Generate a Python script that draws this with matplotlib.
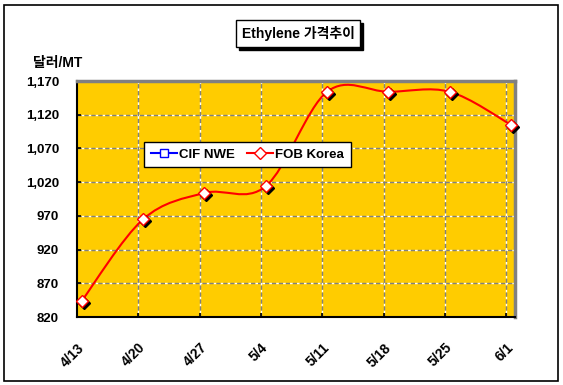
import matplotlib
matplotlib.use('Agg')
import matplotlib.pyplot as plt
import matplotlib.patches as mpatches
import matplotlib.transforms as mtransforms
from matplotlib.path import Path
import numpy as np

plt.rcParams['font.family'] = ['Liberation Sans', 'Noto Sans CJK KR', 'DejaVu Sans']
plt.rcParams['font.weight'] = 'bold'

# data
weeks = ['4/13', '4/20', '4/27', '5/4', '5/11', '5/18', '5/25', '6/1']
fob_korea = [844, 965, 1004, 1014, 1154, 1154, 1154, 1105]
cif_nwe = []
y_ticks = [820, 870, 920, 970, 1020, 1070, 1120, 1170]

fig = plt.figure(figsize=(5.63, 3.85), dpi=100)
W, H = 563.0, 385.0

# outer frame
fig.patches.append(mpatches.Rectangle((4 / W, 1 - 381 / H), 554 / W, 376 / H,
                                      transform=fig.transFigure, fill=False,
                                      ec='black', lw=1.2))

ax = fig.add_axes([77 / W, 1 - 317 / H, (515 - 77) / W, (317 - 81) / H])
ax.set_facecolor('#FFCC00')

tick_x = np.arange(len(weeks)) * 7.0
pt_x = tick_x + 0.55
ax.set_xlim(0, 50)
ax.set_ylim(820, 1170)
ax.set_xticks(tick_x)
ax.set_xticklabels(weeks, rotation=45, ha='right', rotation_mode='anchor',
                   fontsize=10, fontweight='bold')
ax.set_yticks(y_ticks)
ax.set_yticklabels(['{:,}'.format(v) for v in y_ticks], fontsize=9.5, fontweight='bold')
ax.tick_params(axis='both', direction='in', length=3, width=1.2, color='black')
ax.tick_params(axis='y', pad=13)
ax.tick_params(axis='x', pad=17)

# grid: gray dashes with white gaps
for yv in y_ticks[1:-1]:
    ax.axhline(yv, color='#808080', lw=1, ls=(0, (3, 2)), gapcolor='white', zorder=1)
for xv in tick_x[1:]:
    ax.axvline(xv, color='#808080', lw=1, ls=(0, (3, 2)), gapcolor='white', zorder=1)

for s in ['left', 'bottom']:
    ax.spines[s].set_color('black')
    ax.spines[s].set_linewidth(1.5)
for s in ['top', 'right']:
    ax.spines[s].set_color('#808080')
    ax.spines[s].set_linewidth(2.5)

# smoothed line (excel style bezier)
pts = np.column_stack([pt_x, fob_korea])
verts = [tuple(pts[0])]
codes = [Path.MOVETO]
n = len(pts)
for i in range(n - 1):
    p0 = pts[max(i - 1, 0)]
    p1 = pts[i]
    p2 = pts[i + 1]
    p3 = pts[min(i + 2, n - 1)]
    c1 = p1 + (p2 - p0) / 6.0
    c2 = p2 - (p3 - p1) / 6.0
    verts += [tuple(c1), tuple(c2), tuple(p2)]
    codes += [Path.CURVE4] * 3
ax.add_patch(mpatches.PathPatch(Path(verts, codes), fill=False, ec='red', lw=1.5, zorder=3))

# marker shadows
shadow = mtransforms.offset_copy(ax.transData, fig=fig, x=2, y=-2, units='dots')
ax.plot(pt_x, fob_korea, 'D', ms=6, mfc='black', mec='black', transform=shadow,
        zorder=4, clip_on=False)
ax.plot(pt_x, fob_korea, 'D', ms=6, mfc='white', mec='red', mew=1, zorder=5,
        clip_on=False)
ax.plot(cif_nwe, cif_nwe, color='blue')

h1 = plt.Line2D([], [], color='blue', lw=1.5, marker='s', ms=6, mfc='white', mec='blue')
h2 = plt.Line2D([], [], color='red', lw=1.5, marker='D', ms=6, mfc='white', mec='red')
leg = fig.legend([h1, h2], ['CIF NWE', 'FOB Korea'], ncol=2,
                 loc='upper left', bbox_to_anchor=(144 / W, 1 - 142 / H),
                 borderaxespad=0, fancybox=False, framealpha=1, edgecolor='black',
                 prop={'weight': 'bold', 'size': 9.5}, handlelength=2.0,
                 handletextpad=0.15, columnspacing=0.9, borderpad=0.5)
leg.get_frame().set_linewidth(1)

# title box with shadow
fig.patches.append(mpatches.Rectangle((239 / W, 1 - 50 / H), 124 / W, 27 / H,
                                      transform=fig.transFigure, fc='black', ec='black'))
fig.patches.append(mpatches.Rectangle((236 / W, 1 - 47 / H), 124 / W, 27 / H,
                                      transform=fig.transFigure, fc='white', ec='black', lw=1))
fig.text(298 / W, 1 - 33.5 / H, 'Ethylene 가격추이', ha='center', va='center',
         fontsize=10, fontweight='bold')

fig.text(58 / W, 1 - 63 / H, '달러/MT', ha='center', va='center', fontsize=10,
         fontweight='bold')

fig.savefig('out.png', dpi=100)
